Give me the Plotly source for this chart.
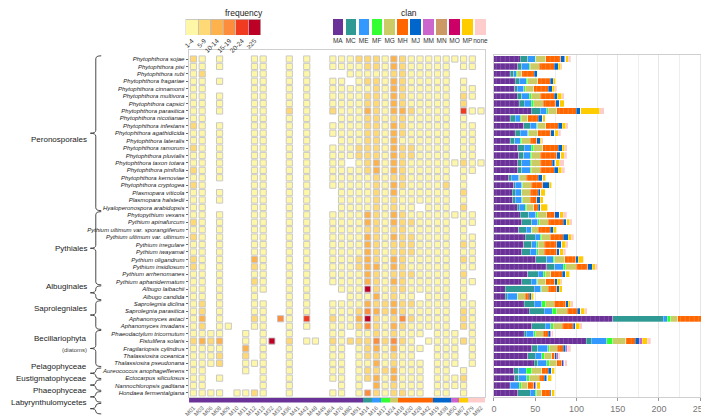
import plotly.graph_objects as go

W, H = 709, 416

SPECIES = [
    "Phytophthora sojae", "Phytophthora pisi", "Phytophthora rubi", "Phytophthora fragariae",
    "Phytophthora cinnamomi", "Phytophthora multivora", "Phytophthora capsici", "Phytophthora parasitica",
    "Phytophthora nicotianae", "Phytophthora infestans", "Phytophthora agathidicida", "Phytophthora lateralis",
    "Phytophthora ramorum", "Phytophthora pluvialis", "Phytophthora taxon totara", "Phytophthora pinifolia",
    "Phytophthora kernoviae", "Phytophthora cryptogea", "Plasmopara viticola", "Plasmopara halstedii",
    "Hyaloperonospora arabidopsis", "Phytopythium vexans", "Pythium apinafurcum",
    "Pythium ultimum var. sporangiiferum", "Pythium ultimum var. ultimum", "Pythium irregulare",
    "Pythium iwayamai", "Pythium oligandrum", "Pythium insidiosum", "Pythium arrhenomanes",
    "Pythium aphanidermatum", "Albugo laibachii", "Albugo candida", "Saprolegnia diclina",
    "Saprolegnia parasitica", "Aphanomyces astaci", "Aphanomyces invadans", "Phaeodactylum tricornutum",
    "Fistulifera solaris", "Fragilariopsis cylindrus", "Thalassiosira oceanica", "Thalassiosira pseudonana",
    "Aureococcus anophagefferens", "Ectocarpus siliculosus", "Nannochloropsis gaditana", "Hondaea fermentalgiana",
]

COLUMNS = ["M01", "M03", "M06", "M08", "M09", "M10", "M11", "M12", "M13", "M32", "M33", "M36", "M41",
           "M43", "M48", "M49", "M64", "M76", "M80", "M91", "M14", "M16", "M17", "M24", "M18", "M20",
           "M28", "M42", "M19", "M38", "M50", "M67", "M79", "M82"]
COL_CLAN = ["MA"] * 20 + ["MC", "ME", "MF", "MG", "MH", "MH", "MH", "MH", "MJ", "MJ", "MM", "MP",
                          "none", "none"]

# frequency class per species x column (0 = absent, 1 = 1-4 ... 6 = >=25)
FREQ = [
    "2101000110010100111222132111111110",
    "1101000110010100111122132111110110",
    "1200000110010100001111122111110000",
    "1101000110010100110122132111110100",
    "1100000110010100111112132111110110",
    "1101000110010100111122132111110210",
    "1101000110010100111122132111110200",
    "1101000110020100211132133211110511",
    "1100000110010100011122122111110100",
    "2101000110010100111122132111110110",
    "1101000110010100111122132111110110",
    "1101000110010100011122131111110110",
    "2101000110010100111222132211110110",
    "1101000110010100111222132211110110",
    "1101000110010100110123132111111211",
    "2101000110010100111123132111110110",
    "1101000110010100111112122111110100",
    "2100000110010100111112132111120100",
    "1101000110010100011112131111110200",
    "1101000110010100011112121111110100",
    "1100000110010100011112121101110200",
    "1101000110010100111132132111111110",
    "2101000110010100111132132211110110",
    "1101000110010100111122122111110100",
    "2101000110010100111132132211110110",
    "1101000110010100111132122211110210",
    "1101000110010100111132122211110110",
    "2101000310010100111232132111110210",
    "2101000210010100111233132111110110",
    "1101000110010100111132122211110200",
    "1101000210010100111132132111110110",
    "1101000110010100011162122111110100",
    "1101000100010100001113121101110100",
    "1201000110010100111132232211110110",
    "1201000110010100111243232111110210",
    "1301000210410500211362124211110210",
    "1201100110010100111242132111110210",
    "1111001010010000110112121110111010",
    "2323001016020110212224242101111210",
    "1111003010010000110123131110111010",
    "1112002010010000110122121100111010",
    "1112001110010000110113121110111010",
    "1100001010010000110122231110110100",
    "1101000010010000110123131110111200",
    "1100000010010000010103121110111100",
    "1111011210010000110142122110110100",
]

CLANS = ["MA", "MC", "ME", "MF", "MG", "MH", "MJ", "MM", "MN", "MO", "MP", "none"]
CLAN_COLORS = ["#6A3198", "#2F9A94", "#3399FF", "#33FF33", "#CCCC66", "#FF6600", "#0066CC",
               "#CC66CC", "#CC9966", "#CC0066", "#FFCC00", "#FFCCCC"]

# gene counts per clan for each species (right panel)
MA = [32, 29, 20, 26, 25, 28, 31, 45, 20, 36, 26, 20, 29, 30, 29, 29, 18, 24, 22, 23, 28, 32, 34,
      30, 38, 36, 34, 51, 64, 41, 34, 14, 14, 37, 43, 144, 46, 37, 112, 46, 41, 49, 24, 25, 20, 29]
MC = [9, 5, 4, 5, 3, 6, 6, 11, 6, 8, 6, 5, 8, 6, 5, 5, 3, 2, 4, 3, 3, 10, 12, 9, 12, 10, 10, 13,
      10, 13, 11, 35, 2, 12, 18, 61, 16, 2, 6, 7, 9, 4, 6, 5, 0, 15]
ME = [9, 9, 3, 8, 8, 9, 8, 8, 6, 8, 9, 7, 8, 8, 10, 10, 9, 8, 7, 8, 7, 9, 7, 6, 6, 6, 8, 8, 10, 6,
      7, 8, 12, 9, 10, 5, 7, 9, 19, 12, 8, 11, 9, 10, 11, 6]
MF = [1, 1, 1, 2, 2, 2, 3, 2, 1, 1, 1, 2, 3, 2, 1, 1, 1, 1, 1, 1, 2, 2, 2, 1, 2, 2, 2, 2, 3, 2, 1,
      1, 1, 5, 5, 4, 3, 3, 7, 2, 3, 3, 7, 3, 2, 2]
MG = [12, 11, 6, 12, 10, 11, 12, 10, 8, 10, 11, 10, 11, 10, 11, 11, 8, 10, 10, 9, 8, 11, 11, 8, 10,
      7, 7, 12, 13, 7, 10, 8, 9, 10, 13, 9, 11, 9, 16, 10, 9, 9, 12, 12, 8, 6]
MH = [18, 18, 15, 15, 18, 17, 15, 24, 13, 15, 16, 8, 19, 20, 15, 17, 15, 14, 10, 8, 6, 10, 18, 14,
      16, 15, 15, 13, 14, 14, 11, 10, 5, 14, 12, 30, 13, 6, 11, 7, 4, 6, 8, 6, 7, 10]
MJ = [5, 5, 4, 4, 5, 4, 5, 5, 5, 5, 5, 4, 5, 5, 3, 5, 5, 8, 3, 4, 3, 5, 4, 4, 6, 6, 4, 3, 5, 4, 3,
      3, 2, 3, 4, 3, 3, 2, 5, 3, 2, 2, 4, 3, 2, 2]
MM = [1, 0, 0, 0, 0, 0, 0, 0, 0, 0, 0, 0, 0, 0, 1, 0, 0, 0, 0, 0, 0, 1, 0, 0, 0, 0, 0, 0, 0, 0, 0,
      0, 0, 0, 0, 0, 0, 2, 4, 2, 2, 2, 0, 1, 2, 0]
MN = [0] * 46
MO = [0] * 46
MP = [3, 3, 0, 3, 3, 5, 5, 23, 3, 4, 4, 2, 3, 4, 5, 4, 4, 3, 5, 4, 8, 4, 4, 4, 4, 5, 4, 6, 4, 5, 4,
      4, 3, 3, 5, 5, 5, 0, 6, 0, 0, 0, 4, 5, 4, 4]
NONE = [3, 2, 0, 0, 2, 3, 0, 6, 0, 3, 3, 2, 3, 3, 5, 4, 0, 0, 0, 0, 0, 4, 3, 0, 3, 3, 3, 1, 3, 0,
        2, 0, 0, 3, 3, 2, 3, 2, 4, 4, 2, 3, 0, 0, 0, 0]
CLAN_COUNTS = [MA, MC, ME, MF, MG, MH, MJ, MM, MN, MO, MP, NONE]

FREQ_LABELS = ["1-4", "5-9", "10-14", "15-19", "20-24", "≥25"]
FREQ_COLORS = ["#FFF7A8", "#FED976", "#FEB24C", "#FD8D3C", "#F03B20", "#BD0026"]

GROUPS = ["Peronosporales", "Pythiales", "Albuginales", "Saprolegniales", "Becillariophyta",
          "Pelagophyceae", "Eustigmatophyceae", "Phaeophyceae", "Labyrynthulomycetes"]
GROUP_SIZES = [21, 10, 2, 4, 5, 1, 1, 1, 1]


def px(x):
    return x / W


def py(y):
    return 1 - y / H


# panel boxes in pixels
HM_X = (177.6, 476.4)
ROWS_Y = (47.3, 388.7)      # top of first row, bottom of last row
HM_TOP = 42.0               # heatmap frame sits a little above the first row
BAR_X = (485.0, 706.0)
FREQ_BOX = (174.0, 250.0)
CLAN_BOX = (321.0, 478.0)
LEG_Y = (11.0, 27.0)

n_rows = len(SPECIES)
row_h = (ROWS_Y[1] - ROWS_Y[0]) / n_rows
top_pad = (ROWS_Y[0] - HM_TOP) / row_h

fig = go.Figure()

# heatmap cells
for k in range(1, 7):
    xs, ys = [], []
    for i, row in enumerate(FREQ):
        for j, ch in enumerate(row):
            if int(ch) == k:
                xs.append(COLUMNS[j]); ys.append(SPECIES[i])
    fig.add_trace(go.Scatter(
        x=xs, y=ys, mode="markers", xaxis="x", yaxis="y", hoverinfo="x+y",
        marker=dict(symbol="square", size=6.2, color=FREQ_COLORS[k - 1],
                    line=dict(color="#c4c4c4", width=0.9)),
        showlegend=False))

# clan strip under heatmap
clan_of_col = [CLAN_COLORS[CLANS.index(c)] for c in COL_CLAN]
fig.add_trace(go.Bar(x=list(range(len(COLUMNS))), y=[1] * len(COLUMNS), width=1,
                     marker=dict(color=clan_of_col, line=dict(width=0)),
                     xaxis="x2", yaxis="y2", showlegend=False, hoverinfo="skip"))

# stacked bars right (multi-family clans get fine white striations)
for name, color, vals in zip(CLANS, CLAN_COLORS, CLAN_COUNTS):
    marker = dict(color=color, line=dict(color="white", width=0.3))
    if name in ("MA", "MH"):
        marker["pattern"] = dict(shape="|", size=4.5, solidity=0.12, fillmode="overlay",
                                 fgcolor="rgba(255,255,255,0.55)")
    fig.add_trace(go.Bar(x=vals, y=SPECIES, orientation="h", name=name, marker=marker,
                         xaxis="x3", yaxis="y3", showlegend=False))

# frequency legend
fig.add_trace(go.Bar(x=FREQ_LABELS, y=[1] * 6, width=1,
                     marker=dict(color=FREQ_COLORS, line=dict(color="#bdbdbd", width=0.8)),
                     xaxis="x4", yaxis="y4", showlegend=False, hoverinfo="skip"))
# clan legend
fig.add_trace(go.Bar(x=CLANS, y=[1] * 12, width=0.8,
                     marker=dict(color=CLAN_COLORS, line=dict(width=0)),
                     xaxis="x5", yaxis="y5", showlegend=False, hoverinfo="skip"))

leg_ydom = [py(LEG_Y[1]), py(LEG_Y[0])]
fig.update_layout(
    width=W, height=H, margin=dict(l=0, r=0, t=0, b=0),
    paper_bgcolor="white", plot_bgcolor="white",
    font=dict(family="Liberation Sans, Arial", color="#333"),
    barmode="stack", bargap=0.16,
    xaxis=dict(domain=[px(HM_X[0]), px(HM_X[1])], type="category", categoryarray=COLUMNS,
               range=[-0.5, len(COLUMNS) - 0.5], showticklabels=False, showgrid=False,
               zeroline=False, showline=True, mirror=True, linecolor="#cfcfcf", anchor="y"),
    yaxis=dict(domain=[py(ROWS_Y[1]), py(HM_TOP)], type="category", categoryarray=SPECIES,
               range=[n_rows - 0.5, -0.5 - top_pad], showgrid=False, zeroline=False,
               tickvals=SPECIES, ticktext=[f"<i>{s}</i>" for s in SPECIES],
               tickfont=dict(size=6, color="#222"), ticks="outside", ticklen=2.5,
               tickcolor="#666", showline=True, mirror=True, linecolor="#cfcfcf", anchor="x"),
    xaxis2=dict(domain=[px(HM_X[0]), px(HM_X[1])], range=[-0.5, len(COLUMNS) - 0.5],
                tickvals=list(range(len(COLUMNS))), ticktext=COLUMNS, tickangle=-45,
                tickfont=dict(size=5.8, color="#666"), showgrid=False, zeroline=False,
                ticklen=0, anchor="y2"),
    yaxis2=dict(domain=[py(394.5), py(389.6)], range=[0, 1], visible=False, anchor="x2"),
    xaxis3=dict(domain=[px(BAR_X[0]), px(BAR_X[1])], range=[0, 265.5], dtick=50,
                tickfont=dict(size=9, color="#777"), showgrid=True, gridcolor="#e6e6e6",
                minor=dict(dtick=25, showgrid=True, gridcolor="#eeeeee"),
                zeroline=False, showline=True, mirror=True, linecolor="#cfcfcf",
                ticks="outside", ticklen=3, tickcolor="#999", anchor="y3"),
    yaxis3=dict(domain=[py(ROWS_Y[1]), py(ROWS_Y[0])], type="category", categoryarray=SPECIES,
                range=[n_rows - 0.5, -0.5], showticklabels=False, showgrid=False,
                zeroline=False, showline=True, mirror=True, linecolor="#cfcfcf", anchor="x3"),
    xaxis4=dict(domain=[px(FREQ_BOX[0]), px(FREQ_BOX[1])], type="category", tickangle=-45,
                tickfont=dict(size=6.5, color="#333"), showgrid=False, zeroline=False,
                ticks="", anchor="y4"),
    yaxis4=dict(domain=leg_ydom, range=[0, 1], visible=False, anchor="x4"),
    xaxis5=dict(domain=[px(CLAN_BOX[0]), px(CLAN_BOX[1])], type="category", tickangle=0,
                tickfont=dict(size=6.5, color="#333"), showgrid=False, zeroline=False,
                ticks="", anchor="y5"),
    yaxis5=dict(domain=leg_ydom, range=[0, 1], visible=False, anchor="x5"),
)

fig.add_annotation(x=px(sum(FREQ_BOX) / 2), y=py(5), xref="paper", yref="paper",
                   text="frequency", showarrow=False, yanchor="middle",
                   font=dict(size=8.5, color="#222"))
fig.add_annotation(x=px(sum(CLAN_BOX) / 2), y=py(5), xref="paper", yref="paper",
                   text="clan", showarrow=False, yanchor="middle",
                   font=dict(size=8.5, color="#222"))


def brace(y0, y1, x_tip=78.0, x_end=89.0):
    xm = (x_tip + x_end) / 2
    ym = (y0 + y1) / 2
    r = min(3.0, (y1 - y0) / 4)
    pts = (f"M {px(x_end)},{py(y0)} Q {px(xm)},{py(y0)} {px(xm)},{py(y0 + r)} "
           f"L {px(xm)},{py(ym - r)} Q {px(xm)},{py(ym)} {px(x_tip)},{py(ym)} "
           f"Q {px(xm)},{py(ym)} {px(xm)},{py(ym + r)} "
           f"L {px(xm)},{py(y1 - r)} Q {px(xm)},{py(y1)} {px(x_end)},{py(y1)}")
    return dict(type="path", path=pts, xref="paper", yref="paper",
                line=dict(color="#333", width=0.9))


start = 0
y_small = None
for g, n in zip(GROUPS, GROUP_SIZES):
    if n > 1:
        y0 = ROWS_Y[0] + start * row_h + 0.5
        y1 = ROWS_Y[0] + (start + n) * row_h - 0.5
        y_small = y1 + 1.5
    else:
        y0 = y_small
        y1 = y_small + 10.5
        y_small = y1 + 1.3
    fig.add_shape(brace(y0, y1))
    ym = (y0 + y1) / 2
    if g == "Becillariophyta":
        fig.add_annotation(x=px(76.5), y=py(ym - 3.5), xref="paper", yref="paper", text=g,
                           showarrow=False, xanchor="right", font=dict(size=8, color="#222"))
        fig.add_annotation(x=px(76.5), y=py(ym + 6.5), xref="paper", yref="paper",
                           text="(diatoms)", showarrow=False, xanchor="right",
                           font=dict(size=6, color="#444"))
    else:
        fig.add_annotation(x=px(76.5), y=py(ym), xref="paper", yref="paper", text=g,
                           showarrow=False, xanchor="right", font=dict(size=8, color="#222"))
    start += n

fig.write_html("out.html")
